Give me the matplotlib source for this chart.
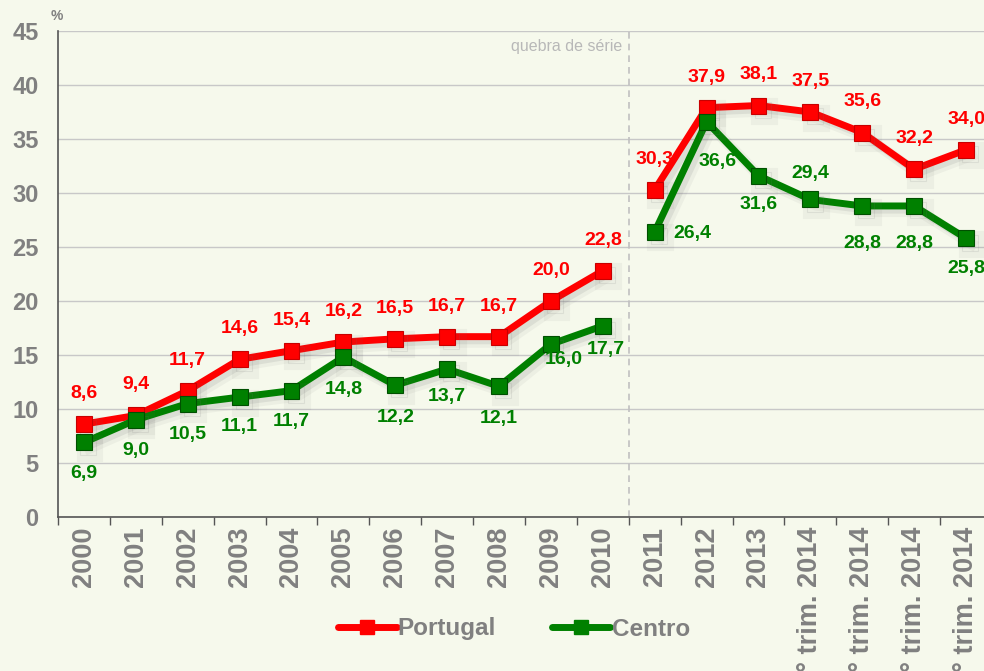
import numpy as np
import matplotlib.pyplot as plt
import matplotlib.patheffects as pe
from matplotlib.lines import Line2D

plt.rcParams['font.family'] = ['Liberation Sans', 'DejaVu Sans']

categories = ["2000", "2001", "2002", "2003", "2004", "2005", "2006", "2007", "2008",
              "2009", "2010", "2011", "2012", "2013",
              "1° trim. 2014", "2° trim. 2014", "3° trim. 2014", "4° trim. 2014"]
portugal = [8.6, 9.4, 11.7, 14.6, 15.4, 16.2, 16.5, 16.7, 16.7, 20.0, 22.8,
            30.3, 37.9, 38.1, 37.5, 35.6, 32.2, 34.0]
centro = [6.9, 9.0, 10.5, 11.1, 11.7, 14.8, 12.2, 13.7, 12.1, 16.0, 17.7,
          26.4, 36.6, 31.6, 29.4, 28.8, 28.8, 25.8]
break_at = 11  # first point of the new series

# label offsets in points (dx, dy)
pt_off = [(0, 22)] * len(portugal)
ce_off = [(0, -22), (0, -22), (0, -22), (0, -21), (0, -22), (0, -23), (0, -23),
          (0, -20), (0, -23), (9, -11), (2, -17),
          (27, -1), (8, -29), (0, -21), (0, 19), (0, -27), (0, -27), (0, -22)]

RED = "#ff0000"
GREEN = "#008000"
GRAY = "#808080"
BG = "#f6f9ec"

fig = plt.figure(figsize=(9.84, 6.71), dpi=100, facecolor=BG)
ax = fig.add_axes([58 / 984, 154 / 671, 934 / 984, 486 / 671])
ax.set_facecolor(BG)

x = np.arange(len(categories))
shadow = [pe.SimpleLineShadow(offset=(4, -4), shadow_color="#707070", alpha=0.07, linewidth=8),
          pe.SimpleLineShadow(offset=(3, -3), shadow_color="#707070", alpha=0.13),
          pe.Normal()]

for vals, color, edge in [(portugal, RED, "#c80000"), (centro, GREEN, "#005000")]:
    for seg in (slice(0, break_at), slice(break_at, None)):
        ax.plot(x[seg], vals[seg], color=color, lw=5, marker="s", ms=11.5,
                mfc=color, mec=edge, mew=0.8, path_effects=shadow, zorder=3)

for i in range(len(categories)):
    ax.annotate(f"{portugal[i]:.1f}".replace(".", ","), (x[i], portugal[i]),
                xytext=pt_off[i], textcoords="offset points", ha="center", va="center",
                color=RED, fontsize=14, fontweight="bold", zorder=4)
    ax.annotate(f"{centro[i]:.1f}".replace(".", ","), (x[i], centro[i]),
                xytext=ce_off[i], textcoords="offset points", ha="center", va="center",
                color=GREEN, fontsize=14, fontweight="bold", zorder=4)

ax.set_xlim(-0.5, len(categories) - 0.5)
ax.set_ylim(0, 45)
ax.set_yticks(range(0, 46, 5))
ax.yaxis.grid(True, color="#c8c8c8", lw=1)
ax.set_axisbelow(True)

ax.set_xticks(np.arange(len(categories) + 1) - 0.5, minor=False)
ax.set_xticklabels([])
ax.set_xticks(x, minor=True)
ax.set_xticklabels(categories, minor=True, rotation=90, fontsize=19.5,
                   fontweight="bold", color=GRAY)
ax.tick_params(axis="x", which="major", length=6, width=1, color="#555555", direction="out")
ax.tick_params(axis="x", which="minor", length=0, pad=7)
ax.tick_params(axis="y", length=0, labelsize=17, labelcolor=GRAY, pad=14)
for lab in ax.get_yticklabels():
    lab.set_fontweight("bold")

for side in ("top", "right"):
    ax.spines[side].set_visible(False)
for side in ("left", "bottom"):
    ax.spines[side].set_color("#555555")
    ax.spines[side].set_linewidth(1.2)

ax.axvline(break_at - 0.5, color="#c0c0c0", lw=1.2, ls=(0, (4, 3)), zorder=1)
ax.text(break_at - 0.63, 43.6, "quebra de série", ha="right", va="center",
        fontsize=11.5, color="#b8b8b8")
ax.text(-0.008, 1.03, "%", transform=ax.transAxes, ha="left", va="center",
        fontsize=10, fontweight="bold", color=GRAY)

handles = [Line2D([], [], color=RED, lw=5, marker="s", ms=10, mec=RED,
                  solid_capstyle="round"),
           Line2D([], [], color=GREEN, lw=5, marker="s", ms=10, mec=GREEN,
                  solid_capstyle="round")]
leg = fig.legend(handles, ["Portugal", "Centro"], loc="center",
                 bbox_to_anchor=(514 / 984, 1 - 629 / 671), ncol=2,
                 frameon=False, handlelength=2.4, handletextpad=0.05, columnspacing=2.3,
                 prop={"size": 17.5, "weight": "bold"})
for t in leg.get_texts():
    t.set_color(GRAY)

fig.savefig("out.png", dpi=100, facecolor=BG)
